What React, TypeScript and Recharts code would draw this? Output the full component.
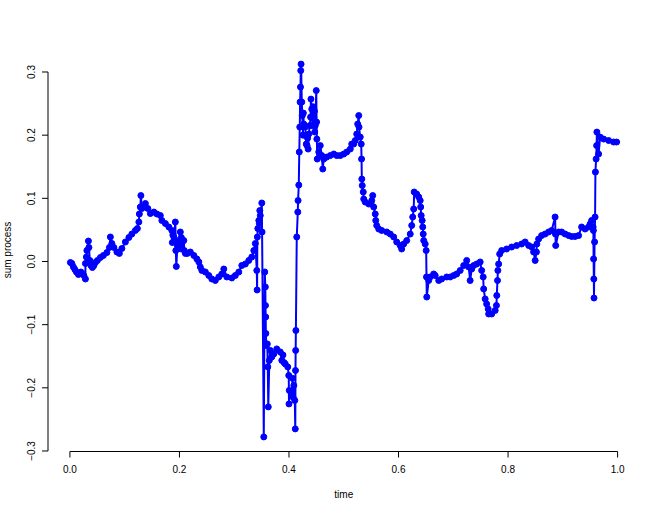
import { LineChart, Line, XAxis, YAxis, ReferenceLine } from 'recharts'

// values
const time = [
  0.0009, 0.0036, 0.0064, 0.0091, 0.0119, 0.0155, 0.0201, 0.0228, 0.0255, 0.0283,
  0.0283, 0.0301, 0.031, 0.0338, 0.0347, 0.0365, 0.0383, 0.0411, 0.0438, 0.0465,
  0.0502, 0.0557, 0.0611, 0.0675, 0.0721, 0.0739, 0.0766, 0.0803, 0.0858, 0.0903,
  0.0949, 0.1013, 0.1077, 0.1131, 0.1195, 0.1232, 0.1259, 0.1268, 0.1286, 0.1296,
  0.1314, 0.1378, 0.1423, 0.1469, 0.1533, 0.1588, 0.1651, 0.1679, 0.1743, 0.1807,
  0.1861, 0.187, 0.188, 0.1898, 0.1925, 0.1934, 0.1943, 0.1962, 0.1989, 0.2016,
  0.2025, 0.2035, 0.2044, 0.208,
  0.2089, 0.2108, 0.2144, 0.2199, 0.2263, 0.2318, 0.2354, 0.2381, 0.2409, 0.2473,
  0.2536, 0.2591, 0.2655, 0.2719, 0.2774, 0.281, 0.2865, 0.2956, 0.302, 0.3084,
  0.3139, 0.3203, 0.3266, 0.3321, 0.3358, 0.3385, 0.3412, 0.3418, 0.3422, 0.3431,
  0.3449, 0.3458, 0.3467, 0.3476, 0.3504, 0.3509, 0.354, 0.3558, 0.3568, 0.3571,
  0.3575, 0.3578, 0.3586, 0.3604, 0.3613, 0.3622, 0.3641, 0.3659, 0.3686, 0.3723,
  0.3777, 0.3841, 0.3869, 0.389, 0.391, 0.3932, 0.3978, 0.3996, 0.4, 0.4005,
  0.4051, 0.4065, 0.4075, 0.4088,
  0.4106, 0.4115, 0.4119, 0.4122, 0.4126, 0.4142, 0.4161, 0.4166, 0.4179, 0.4188,
  0.4197, 0.4203, 0.421, 0.4215, 0.4221, 0.4234, 0.4243, 0.4255, 0.4262, 0.427,
  0.4297, 0.4307, 0.4316, 0.433, 0.434, 0.435, 0.4361, 0.438, 0.4394, 0.4401,
  0.4416, 0.443, 0.444, 0.4453, 0.4465, 0.447, 0.448, 0.4498,
  0.4504, 0.4509, 0.4516, 0.4544, 0.4571, 0.4599, 0.4617, 0.4635, 0.469, 0.4754,
  0.4818, 0.4872, 0.4936, 0.5, 0.5055, 0.5119, 0.5146, 0.5182, 0.521, 0.5237,
  0.5255, 0.5274, 0.5279, 0.5301, 0.5319, 0.5325, 0.533, 0.5338, 0.5356, 0.5365,
  0.5392, 0.5456, 0.5511, 0.5529, 0.5547, 0.5575, 0.5584, 0.5602, 0.5639, 0.5693,
  0.5785, 0.5849, 0.5912, 0.5967, 0.6031, 0.6058, 0.6095, 0.615, 0.6214, 0.6241,
  0.6259, 0.6277, 0.6286, 0.6332, 0.6369, 0.6396, 0.6405, 0.6414, 0.6432, 0.6442,
  0.6451, 0.646, 0.6487, 0.6505, 0.6511, 0.6516, 0.6551, 0.6578, 0.6642, 0.667,
  0.6734, 0.6788, 0.688, 0.6943, 0.7007, 0.7062, 0.7126, 0.719, 0.7245, 0.7281,
  0.7308, 0.7336, 0.7372, 0.7427, 0.7491, 0.7518, 0.7546, 0.7555, 0.7582, 0.7609,
  0.7637, 0.7646, 0.7701, 0.7765, 0.7788, 0.7794, 0.7807, 0.7814, 0.7828, 0.7847,
  0.7883, 0.7974, 0.8066, 0.8157, 0.8248, 0.8312, 0.8376, 0.8431, 0.8467, 0.8495,
  0.8518, 0.8526, 0.8558, 0.8613, 0.8677, 0.8741, 0.8796, 0.8859, 0.8865, 0.887,
  0.8923, 0.8978, 0.9042, 0.9106, 0.9161, 0.9224, 0.9288, 0.9343, 0.9407, 0.9471,
  0.9498, 0.9526, 0.9553, 0.9558, 0.9562, 0.9566, 0.9569, 0.958, 0.9589, 0.9595,
  0.9608, 0.9617, 0.9622, 0.9653, 0.9681, 0.9745, 0.9836, 0.9927, 0.9982,
]

const sumProcess = [
  -0.0016, -0.0032, -0.0087, -0.0127, -0.0166, -0.0206, -0.0166, -0.019, -0.0222, -0.0277,
  -0.0032, 0.0071, 0.0174, 0.0324, 0.0222, 0.0016, -0.0063, -0.0095, -0.0063, -0.0016,
  0.0016, 0.0063, 0.0095, 0.0142, 0.0222, 0.0388, 0.0285, 0.0222, 0.015, 0.0127,
  0.0206, 0.0309, 0.038, 0.0435, 0.0491, 0.0522, 0.0625, 0.0752, 0.0862, 0.1044,
  0.0839, 0.0918, 0.0839, 0.0759, 0.0783, 0.0752, 0.0728, 0.0649, 0.0601, 0.0546,
  0.0491, 0.03, 0.042, 0.0388, 0.0625, 0.0174, -0.0079, 0.0253, 0.0332, 0.0467,
  0.02, 0.038, 0.0285, 0.0332,
  0.0174, 0.0127, 0.0127, 0.015, 0.0095, 0.004, -0.0008, -0.0087, -0.0142, -0.0166,
  -0.0222, -0.0277, -0.0301, -0.0245, -0.0198, -0.0119, -0.0245, -0.0261, -0.0222, -0.0166,
  -0.0063, -0.004, 0.0016, 0.0071, 0.0174, 0.0285, -0.0142, -0.0451, 0.0388, 0.0522,
  0.0649, 0.0601, 0.0807, 0.0728, 0.0926, 0.0467, -0.2777, -0.0166, -0.0403, -0.0696,
  -0.0878, -0.1139, -0.1329, -0.1305, -0.1669, -0.2302, -0.1566, -0.1408, -0.1511, -0.1464,
  -0.1384, -0.1432, -0.1566, -0.148, -0.16, -0.1622, -0.1669, -0.1804, -0.2255, -0.2041,
  -0.2097, -0.185, -0.215, -0.1962,
  -0.2199, -0.265, -0.1725, -0.1408, -0.1092, 0.0388, 0.0783, 0.0965, 0.121, 0.1733,
  0.2128, 0.2524, 0.2761, 0.3022, 0.3125, 0.2524, 0.231, 0.2, 0.235, 0.2176,
  0.2128, 0.1994, 0.1859, 0.1835, 0.195, 0.178, 0.2017, 0.2152, 0.2286, 0.2571,
  0.2413, 0.215, 0.245, 0.2286, 0.238, 0.205, 0.2152, 0.2706,
  0.2207, 0.1938, 0.1622, 0.1733, 0.1835, 0.1677, 0.1464, 0.1622, 0.1653, 0.1677,
  0.1701, 0.1677, 0.1677, 0.1701, 0.1733, 0.178, 0.1859, 0.1859, 0.1915, 0.2017,
  0.2176, 0.231, 0.2128, 0.197, 0.1859, 0.1622, 0.1305, 0.1203, 0.11, 0.0989,
  0.0941, 0.091, 0.0965, 0.1044, 0.0862, 0.0752, 0.0649, 0.057, 0.0514, 0.0491,
  0.0467, 0.0435, 0.0388, 0.0309, 0.0253, 0.0198, 0.0277, 0.0332, 0.0435, 0.057,
  0.0704, 0.0831, 0.11, 0.1068, 0.1021, 0.0965, 0.0862, 0.0728, 0.0649, 0.0546,
  0.0435, 0.0332, 0.0277, 0.0174, -0.0245, -0.0562, -0.0301, -0.0245, -0.0198, -0.0222,
  -0.0301, -0.0277, -0.0245, -0.0245, -0.0222, -0.0198, -0.0142, -0.0063, 0.0016, -0.0087,
  -0.0301, -0.0119, -0.0063, -0.004, -0.0008, -0.0142, -0.0245, -0.0435, -0.0593, -0.0672,
  -0.0752, -0.0831, -0.0831, -0.0775, -0.0696, -0.0538, -0.0301, -0.0142, -0.004, 0.0119,
  0.0174, 0.0198, 0.0229, 0.0253, 0.0277, 0.0309, 0.0253, 0.0229, 0.015, 0.0016,
  0.015, 0.0277, 0.0356, 0.0411, 0.0435, 0.0467, 0.0491, 0.0704, 0.0435, 0.0253,
  0.0467, 0.0467, 0.0435, 0.0411, 0.0396, 0.0396, 0.0411, 0.0546, 0.0514, 0.0546,
  0.0593, 0.0649, 0.0546, 0.0491, 0.004, -0.0277, -0.0578, 0.0309, 0.0704, 0.1416,
  0.1622, 0.1835, 0.2049, 0.1701, 0.197, 0.1938, 0.1915, 0.1891, 0.1891,
]

const xTicks = [0, 0.2, 0.4, 0.6, 0.8, 1]
const yTicks = [-0.3, -0.2, -0.1, 0, 0.1, 0.2, 0.3]

const data = time.map((t, i) => ({ time: t, value: sumProcess[i] }))

const font = '"Liberation Sans", Arial, Helvetica, sans-serif'
const yMin = -0.3008
const yMax = 0.3364

const fmt = (v: number) => v.toFixed(1).replace('-', '\u2212')

const YTick = ({ x, y, payload }: any) => (
  <text
    x={x}
    y={y}
    transform={`rotate(-90, ${x}, ${y})`}
    textAnchor="middle"
    fontSize={10}
    fontFamily={font}
    fill="#000"
  >
    {fmt(payload.value)}
  </text>
)

export default function App() {
  return (
    <div style={{ position: 'absolute', left: 0, top: 0, width: 664, height: 513, background: '#fff' }}>
      <LineChart
        width={664}
        height={513}
        data={data}
        margin={{ top: 49, right: 24.5, left: 8, bottom: 31.5 }}
      >
        <XAxis
          type="number"
          dataKey="time"
          domain={[-0.04, 1.04]}
          ticks={xTicks}
          tickFormatter={fmt}
          axisLine={false}
          tickSize={6}
          tickMargin={8.5}
          tickLine={{ stroke: '#000' }}
          tick={{ fontSize: 10, fill: '#000', fontFamily: font }}
          height={30}
          allowDataOverflow
        />
        <YAxis
          type="number"
          domain={[yMin, yMax]}
          ticks={yTicks}
          axisLine={false}
          tickSize={6}
          tickMargin={7}
          tickLine={{ stroke: '#000' }}
          tick={<YTick />}
          width={40}
          allowDataOverflow
        />
        <ReferenceLine
          segment={[{ x: 0, y: yMin }, { x: 1, y: yMin }]}
          stroke="#000"
          strokeWidth={1}
          ifOverflow="visible"
        />
        <ReferenceLine
          segment={[{ x: -0.04, y: -0.3 }, { x: -0.04, y: 0.3 }]}
          stroke="#000"
          strokeWidth={1}
          ifOverflow="visible"
        />
        <Line
          type="linear"
          dataKey="value"
          stroke="#0000ff"
          strokeWidth={2}
          dot={{ r: 3, fill: '#0000ff', stroke: '#0000ff', strokeWidth: 1 }}
          activeDot={false}
          isAnimationActive={false}
        />
      </LineChart>
      <svg
        width={664}
        height={513}
        style={{ position: 'absolute', left: 0, top: 0, pointerEvents: 'none' }}
      >
        <text x={343.75} y={497.5} textAnchor="middle" fontSize={10} fontFamily={font} fill="#000">
          time
        </text>
        <text
          x={11}
          y={250}
          transform="rotate(-90, 11, 250)"
          textAnchor="middle"
          fontSize={10}
          fontFamily={font}
          fill="#000"
        >
          sum process
        </text>
      </svg>
    </div>
  )
}
